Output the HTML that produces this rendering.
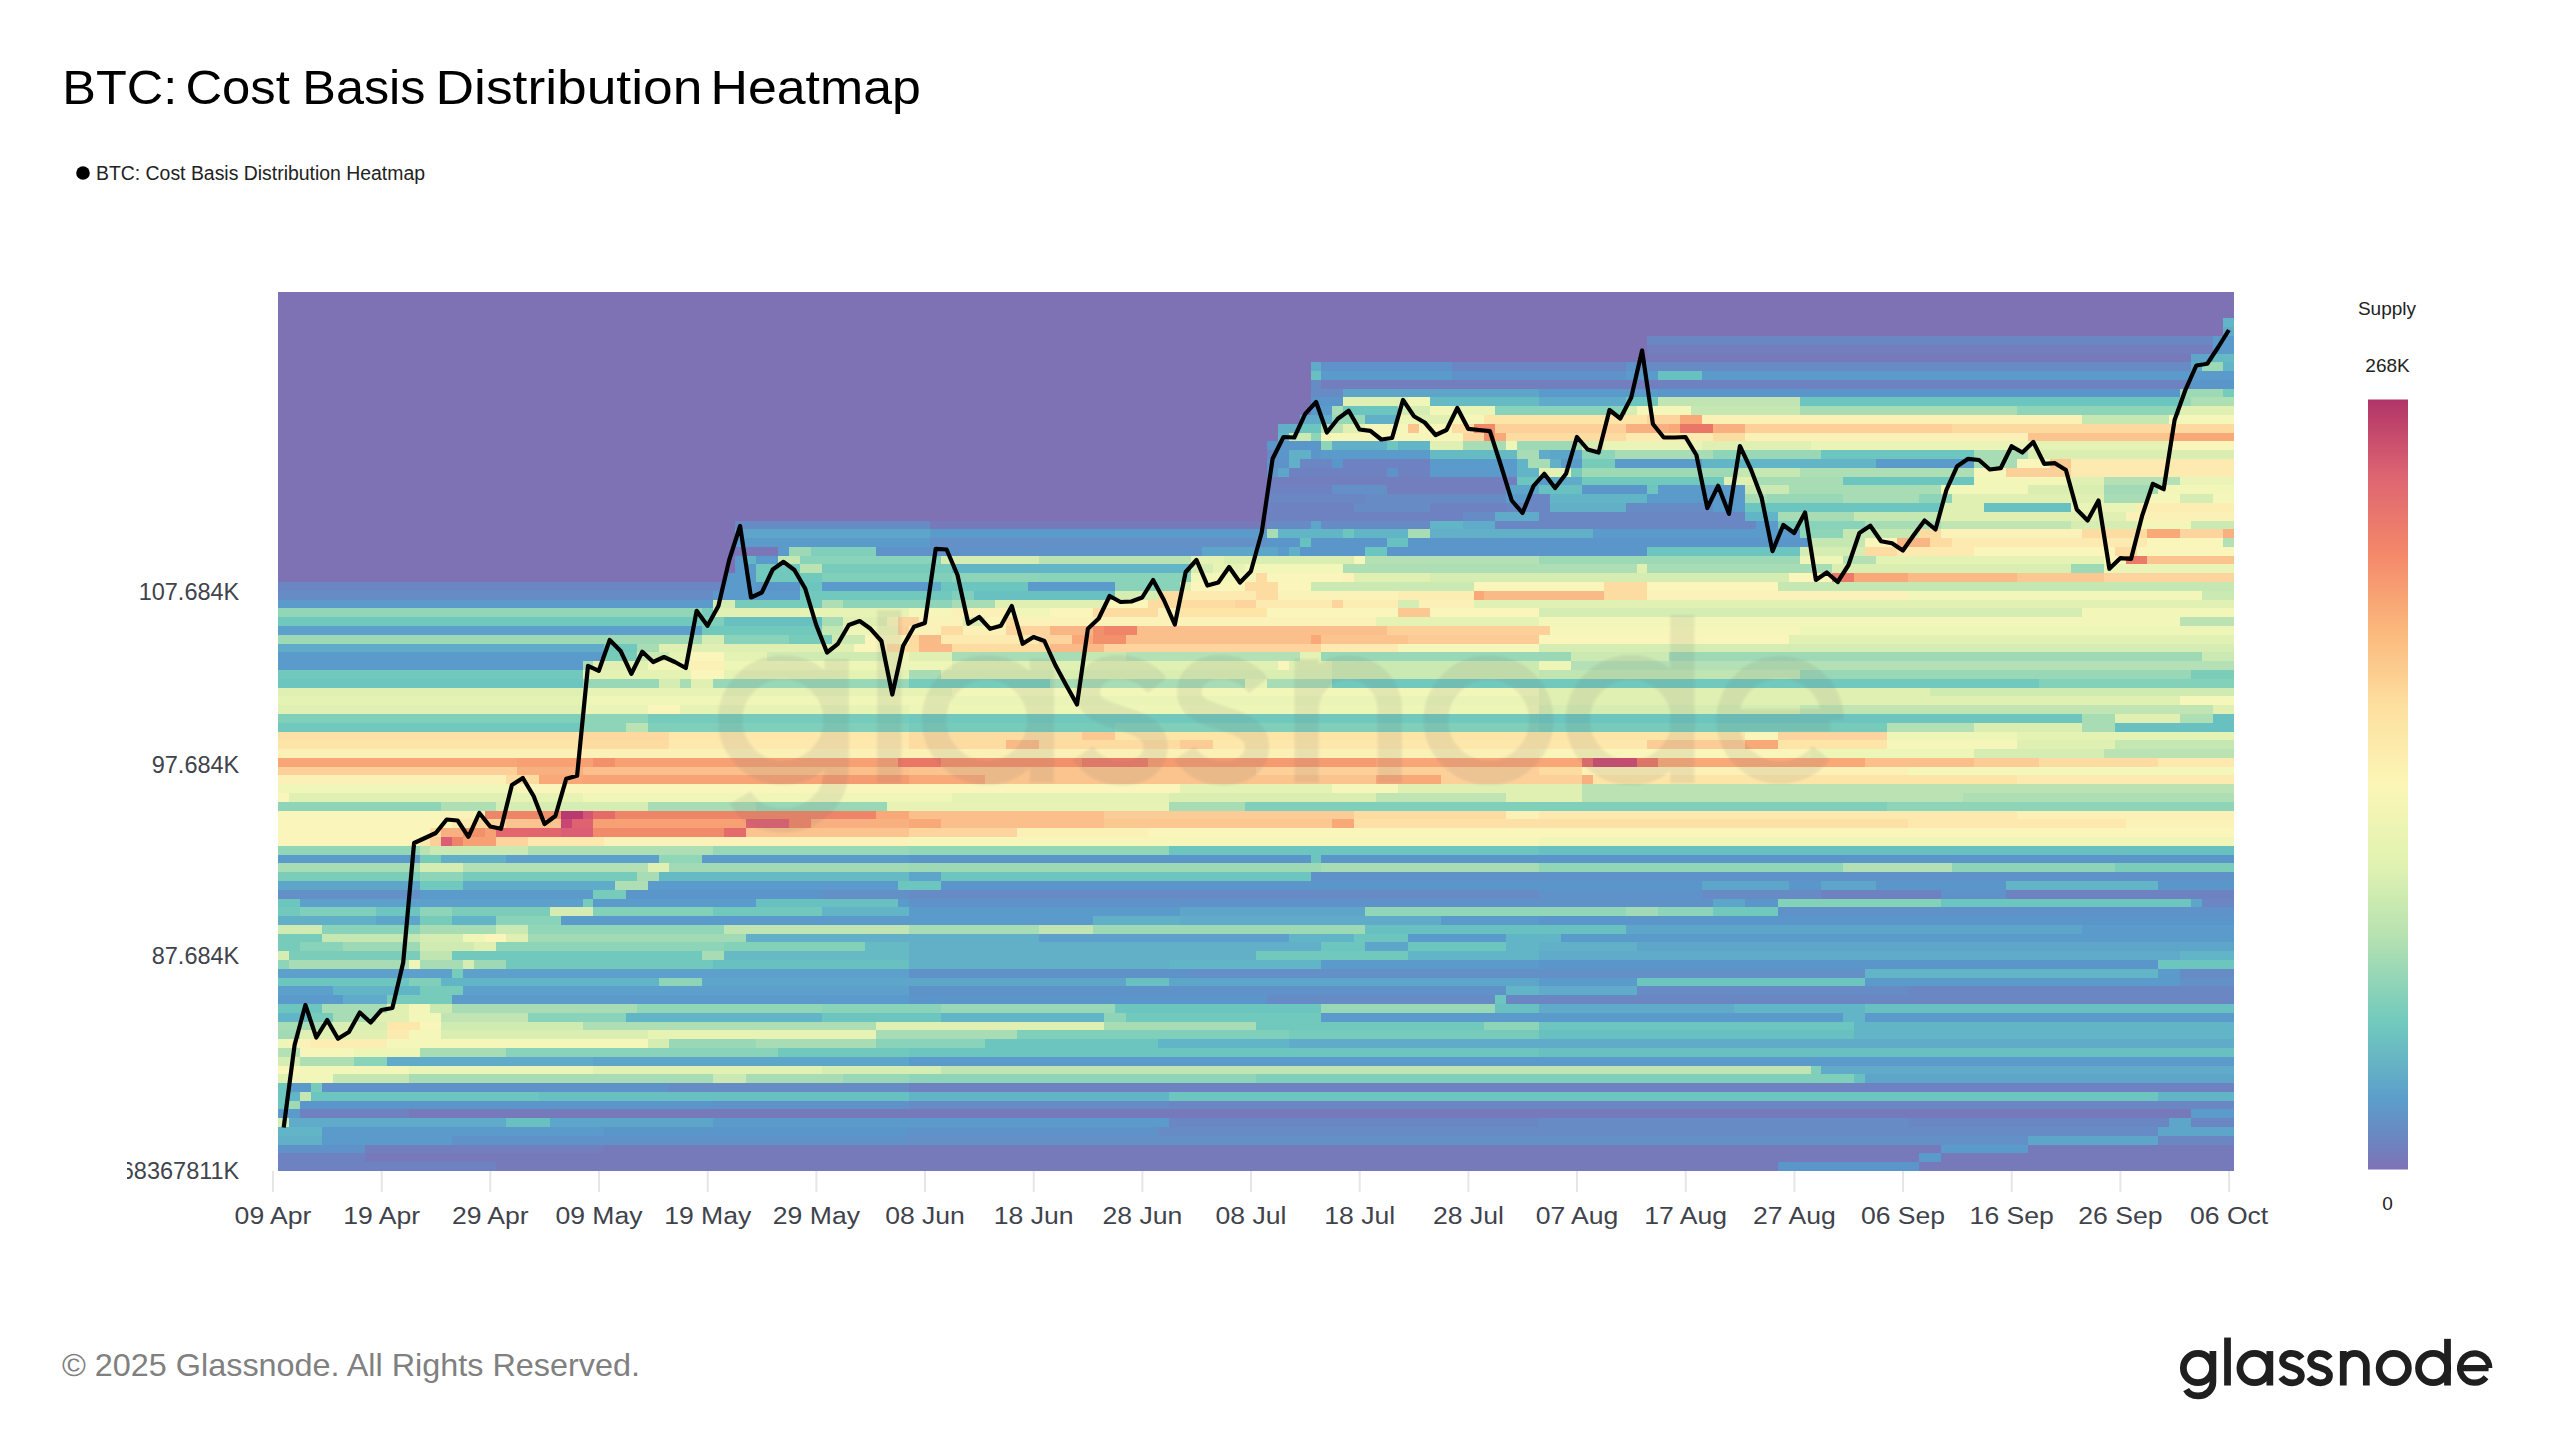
<!DOCTYPE html>
<html><head><meta charset="utf-8"><title>BTC: Cost Basis Distribution Heatmap</title>
<style>
html,body{margin:0;padding:0;background:#fff;}
body{width:2560px;height:1440px;overflow:hidden;font-family:"Liberation Sans",sans-serif;}
svg{display:block}
#root{position:absolute;left:0;top:0}
text{font-family:"Liberation Sans",sans-serif;}
.ax{font-size:24.5px;fill:#3f434c;}
.cb{font-size:19px;fill:#222;}
</style></head><body>
<svg id="root" width="2560" height="1440" viewBox="0 0 2560 1440">
<defs>
<linearGradient id="cbg" x1="0" y1="1" x2="0" y2="0">
<stop offset="0%" stop-color="#7e72b5"/><stop offset="4.5%" stop-color="#6a88c3"/><stop offset="9%" stop-color="#5c9dcb"/><stop offset="14%" stop-color="#66b4c4"/><stop offset="18.5%" stop-color="#6fc8be"/><stop offset="24%" stop-color="#8ed4b8"/><stop offset="30%" stop-color="#b5e1b0"/><stop offset="40%" stop-color="#e2f3b1"/><stop offset="50%" stop-color="#fbf6b6"/><stop offset="60%" stop-color="#fde0a0"/><stop offset="70%" stop-color="#fbb87c"/><stop offset="80%" stop-color="#f4886a"/><stop offset="90%" stop-color="#dd6572"/><stop offset="100%" stop-color="#b13468"/>
</linearGradient>
<filter id="blur" x="-5%" y="-20%" width="110%" height="140%"><feGaussianBlur stdDeviation="2.2"/></filter>
<g id="wm"><g fill="none" stroke="currentColor" stroke-width="48" stroke-linecap="butt" stroke-linejoin="round">
<circle cx="270" cy="413" r="104"/>
<path d="M376 292V512A104 100 0 0 1 270 611Q212 611 186 566"/>
<path d="M480 196V537"/>
<circle cx="672" cy="413" r="104"/>
<path d="M781 292V537"/>
<path d="M1008 345C985 315 950 307 925 309C885 312 868 340 872 365C878 395 915 402 945 412C985 424 1008 440 1005 470C1002 500 975 518 940 518C905 518 880 505 862 478"/>
<path d="M1208 345C1185 315 1150 307 1125 309C1085 312 1068 340 1072 365C1078 395 1115 402 1145 412C1185 424 1208 440 1205 470C1202 500 1175 518 1140 518C1105 518 1080 505 1062 478"/>
<path d="M1303 292V537M1303 392A82 83 0 0 1 1467 392V537"/>
<circle cx="1662" cy="413" r="104"/>
<circle cx="1942" cy="413" r="104"/>
<path d="M2044 205V537"/>
<path d="M2140 413H2336M2341 413A104 104 0 1 0 2318 478" stroke-width="44"/>
</g>
</g>
</defs>
<rect width="2560" height="1440" fill="#fff"/>
<g font-size="47.6" fill="#000"><text x="62.3" y="104" textLength="114.9" lengthAdjust="spacingAndGlyphs">BTC:</text><text x="185.4" y="104" textLength="104.5" lengthAdjust="spacingAndGlyphs">Cost</text><text x="302.3" y="104" textLength="123.2" lengthAdjust="spacingAndGlyphs">Basis</text><text x="435.5" y="104" textLength="266.9" lengthAdjust="spacingAndGlyphs">Distribution</text><text x="710.6" y="104" textLength="210.2" lengthAdjust="spacingAndGlyphs">Heatmap</text></g>
<circle cx="83" cy="173" r="6.8" fill="#000"/>
<text x="96" y="180" font-size="19.5" fill="#222" textLength="329" lengthAdjust="spacingAndGlyphs">BTC: Cost Basis Distribution Heatmap</text>
<g shape-rendering="crispEdges">
<rect x="278.25" y="292.0" width="1956.06" height="879.00" fill="#7e72b5"/>
<path fill="#7e72b5" d="M278.25 292H2234.31V300.79H278.25ZM278.25 300.79H2234.31V309.58H278.25ZM278.25 309.58H2234.31V318.37H278.25ZM278.25 318.37H2223.44V327.16H278.25ZM278.25 327.16H2223.44V335.95H278.25ZM278.25 335.95H1647.49V344.74H278.25ZM278.25 344.74H1647.49V353.53H278.25ZM278.25 353.53H1647.49V362.32H278.25ZM278.25 362.32H1310.62V371.11H278.25ZM278.25 371.11H1310.62V379.9H278.25ZM278.25 379.9H1310.62V388.69H278.25ZM278.25 388.69H1310.62V397.48H278.25ZM278.25 397.48H1310.62V406.27H278.25ZM278.25 406.27H1310.62V415.06H278.25ZM278.25 415.06H1299.75V423.85H278.25ZM278.25 423.85H1278.01V432.64H278.25ZM278.25 432.64H1278.01V441.43H278.25ZM278.25 441.43H1267.15V450.22H278.25ZM278.25 450.22H1267.15V459.01H278.25ZM278.25 459.01H1267.15V467.8H278.25ZM278.25 467.8H1267.15V476.59H278.25ZM278.25 476.59H1267.15V485.38H278.25ZM278.25 485.38H1267.15V494.17H278.25ZM278.25 494.17H1267.15V502.96H278.25ZM278.25 502.96H1267.15V511.75H278.25ZM278.25 511.75H1267.15V520.54H278.25ZM278.25 520.54H734.66V529.33H278.25ZM278.25 529.33H734.66V538.12H278.25ZM278.25 538.12H734.66V546.91H278.25ZM278.25 546.91H734.66V555.7H278.25ZM278.25 555.7H734.66V564.49H278.25ZM278.25 564.49H734.66V573.28H278.25ZM278.25 573.28H723.8V582.07H278.25Z"/>
<path fill="#7a76b7" d="M734.66 546.91H778.13V555.7H734.66Z"/>
<path fill="#767aba" d="M1647.49 353.53H2190.84V362.32H1647.49ZM930.27 520.54H1267.15V529.33H930.27ZM408.65 1109.47H2190.84V1118.26H408.65ZM604.26 1144.63H1940.9V1153.42H604.26ZM2027.84 1144.63H2234.31V1153.42H2027.84ZM365.19 1153.42H1919.17V1162.21H365.19ZM1940.9 1153.42H2234.31V1162.21H1940.9ZM495.59 1162.21H1777.9V1171H495.59ZM1919.17 1162.21H2234.31V1171H1919.17Z"/>
<path fill="#727ebe" d="M1647.49 344.74H2212.58V353.53H1647.49ZM1321.48 379.9H1658.36V388.69H1321.48ZM1267.15 476.59H1517.09V485.38H1267.15ZM1386.68 485.38H1506.22V494.17H1386.68ZM365.19 1144.63H604.26V1153.42H365.19Z"/>
<path fill="#6e82c1" d="M1658.36 379.9H2190.84V388.69H1658.36ZM1343.22 459.01H1430.15V467.8H1343.22ZM1288.88 467.8H1386.68V476.59H1288.88ZM1397.55 467.8H1430.15V476.59H1397.55ZM1267.15 485.38H1332.35V494.17H1267.15ZM1267.15 502.96H1354.08V511.75H1267.15ZM1430.15 502.96H1506.22V511.75H1430.15ZM1267.15 511.75H1462.75V520.54H1267.15ZM1821.36 889.72H1940.9V898.51H1821.36ZM2006.1 889.72H2234.31V898.51H2006.1ZM908.54 1083.1H2234.31V1091.89H908.54ZM299.98 1109.47H408.65V1118.26H299.98ZM278.25 1153.42H365.19V1162.21H278.25ZM278.25 1162.21H495.59V1171H278.25Z"/>
<path fill="#6a86c3" d="M1647.49 335.95H2212.58V344.74H1647.49ZM1451.89 362.32H1625.76V371.11H1451.89ZM1267.15 450.22H1278.01V459.01H1267.15ZM1299.75 459.01H1332.35V467.8H1299.75ZM1267.15 494.17H1364.95V502.96H1267.15ZM1527.96 494.17H1549.69V502.96H1527.96ZM1506.22 502.96H1549.69V511.75H1506.22ZM1538.82 511.75H1745.3V520.54H1538.82ZM1495.35 520.54H1756.16V529.33H1495.35ZM278.25 582.07H723.8V590.86H278.25ZM2201.71 898.51H2234.31V907.3H2201.71ZM1908.3 986.41H2234.31V995.2H1908.3ZM1506.22 995.2H2234.31V1003.99H1506.22ZM1169.34 1100.68H2234.31V1109.47H1169.34ZM1169.34 1118.26H1538.82V1127.05H1169.34ZM1908.3 1118.26H2169.11V1127.05H1908.3ZM2190.84 1118.26H2234.31V1127.05H2190.84ZM2158.24 1135.84H2234.31V1144.63H2158.24Z"/>
<path fill="#678bc5" d="M1647.49 362.32H2190.84V371.11H1647.49ZM1310.62 379.9H1321.48V388.69H1310.62ZM1310.62 388.69H1343.22V397.48H1310.62ZM1364.95 494.17H1506.22V502.96H1364.95ZM1354.08 502.96H1430.15V511.75H1354.08ZM1625.76 502.96H1712.69V511.75H1625.76ZM1462.75 511.75H1495.35V520.54H1462.75ZM734.66 520.54H930.27V529.33H734.66ZM1267.15 520.54H1310.62V529.33H1267.15ZM1321.48 520.54H1430.15V529.33H1321.48ZM278.25 590.86H712.93V599.65H278.25ZM908.54 889.72H1538.82V898.51H908.54ZM1701.83 889.72H1821.36V898.51H1701.83ZM2179.98 968.83H2234.31V977.62H2179.98ZM1636.62 986.41H1908.3V995.2H1636.62ZM1267.15 995.2H1495.35V1003.99H1267.15ZM669.46 1083.1H908.54V1091.89H669.46ZM908.54 1100.68H1169.34V1109.47H908.54ZM1538.82 1118.26H1908.3V1127.05H1538.82ZM1158.48 1127.05H2158.24V1135.84H1158.48Z"/>
<path fill="#6490c8" d="M1332.35 485.38H1386.68V494.17H1332.35ZM930.27 538.12H1267.15V546.91H930.27ZM278.25 889.72H419.52V898.51H278.25ZM821.6 889.72H908.54V898.51H821.6ZM1191.08 968.83H1864.83V977.62H1191.08ZM2179.98 977.62H2234.31V986.41H2179.98ZM908.54 1135.84H2027.84V1144.63H908.54Z"/>
<path fill="#5e92c9" d="M1321.48 362.32H1451.89V371.11H1321.48ZM1625.76 362.32H1647.49V371.11H1625.76ZM1451.89 371.11H1625.76V379.9H1451.89ZM1267.15 459.01H1288.88V467.8H1267.15ZM1386.68 467.8H1397.55V476.59H1386.68ZM875.94 546.91H1201.95V555.7H875.94ZM1310.62 872.14H2234.31V880.93H1310.62ZM1538.82 889.72H1701.83V898.51H1538.82ZM1940.9 889.72H2006.1V898.51H1940.9ZM908.54 898.51H1712.69V907.3H908.54ZM1777.9 907.3H2234.31V916.09H1777.9ZM908.54 968.83H1191.08V977.62H908.54ZM908.54 986.41H1506.22V995.2H908.54ZM321.72 1083.1H669.46V1091.89H321.72ZM712.93 1100.68H908.54V1109.47H712.93ZM908.54 1127.05H1158.48V1135.84H908.54ZM452.12 1135.84H908.54V1144.63H452.12ZM278.25 1144.63H365.19V1153.42H278.25Z"/>
<path fill="#5b96ca" d="M2190.84 379.9H2234.31V388.69H2190.84ZM1658.36 388.69H2179.98V397.48H1658.36ZM1310.62 397.48H1343.22V406.27H1310.62ZM1267.15 441.43H1321.48V450.22H1267.15ZM1278.01 450.22H1288.88V459.01H1278.01ZM1310.62 450.22H1321.48V459.01H1310.62ZM1332.35 459.01H1343.22V467.8H1332.35ZM1267.15 467.8H1278.01V476.59H1267.15ZM1582.29 485.38H1647.49V494.17H1582.29ZM1267.15 538.12H1299.75V546.91H1267.15ZM1310.62 538.12H1386.68V546.91H1310.62ZM1408.42 538.12H1810.5V546.91H1408.42ZM1299.75 546.91H1364.95V555.7H1299.75ZM1386.68 546.91H1647.49V555.7H1386.68ZM756.4 582.07H799.87V590.86H756.4ZM908.54 854.56H1310.62V863.35H908.54ZM1321.48 854.56H2234.31V863.35H1321.48ZM941.14 880.93H1701.83V889.72H941.14ZM1788.76 880.93H1821.36V889.72H1788.76ZM1875.7 880.93H2006.1V889.72H1875.7ZM2158.24 880.93H2234.31V889.72H2158.24ZM625.99 889.72H821.6V898.51H625.99ZM1745.3 898.51H1777.9V907.3H1745.3ZM1538.82 916.09H2234.31V924.88H1538.82ZM1538.82 960.04H2158.24V968.83H1538.82ZM908.54 995.2H1267.15V1003.99H908.54ZM299.98 1100.68H712.93V1109.47H299.98ZM604.26 1127.05H908.54V1135.84H604.26ZM1777.9 1162.21H1919.17V1171H1777.9Z"/>
<path fill="#5b9bcb" d="M2212.58 335.95H2234.31V344.74H2212.58ZM2212.58 344.74H2234.31V353.53H2212.58ZM1321.48 371.11H1451.89V379.9H1321.48ZM1625.76 371.11H1658.36V379.9H1625.76ZM1701.83 371.11H2234.31V379.9H1701.83ZM1538.82 388.69H1658.36V397.48H1538.82ZM1310.62 406.27H1332.35V415.06H1310.62ZM1321.48 450.22H1430.15V459.01H1321.48ZM1430.15 459.01H1517.09V467.8H1430.15ZM1560.56 459.01H1582.29V467.8H1560.56ZM1614.89 459.01H1701.83V467.8H1614.89ZM1875.7 459.01H1973.5V467.8H1875.7ZM1430.15 467.8H1517.09V476.59H1430.15ZM1538.82 476.59H1549.69V485.38H1538.82ZM1658.36 485.38H1745.3V494.17H1658.36ZM1506.22 494.17H1527.96V502.96H1506.22ZM1647.49 494.17H1745.3V502.96H1647.49ZM1712.69 502.96H1745.3V511.75H1712.69ZM1756.16 520.54H1777.9V529.33H1756.16ZM930.27 529.33H1267.15V538.12H930.27ZM1593.16 529.33H1799.63V538.12H1593.16ZM734.66 538.12H930.27V546.91H734.66ZM778.13 546.91H789V555.7H778.13ZM1278.01 546.91H1288.88V555.7H1278.01ZM734.66 555.7H745.53V564.49H734.66ZM756.4 555.7H778.13V564.49H756.4ZM734.66 564.49H756.4V573.28H734.66ZM723.8 573.28H756.4V582.07H723.8ZM723.8 582.07H756.4V590.86H723.8ZM821.6 582.07H930.27V590.86H821.6ZM1028.07 582.07H1115.01V590.86H1028.07ZM712.93 590.86H799.87V599.65H712.93ZM278.25 599.65H712.93V608.44H278.25ZM278.25 652.39H604.26V661.18H278.25ZM278.25 661.18H582.53V669.97H278.25ZM278.25 854.56H419.52V863.35H278.25ZM702.06 854.56H908.54V863.35H702.06ZM647.73 880.93H897.67V889.72H647.73ZM419.52 889.72H593.39V898.51H419.52ZM593.39 898.51H756.4V907.3H593.39ZM897.67 898.51H908.54V907.3H897.67ZM908.54 907.3H1180.21V916.09H908.54ZM560.79 916.09H1093.28V924.88H560.79ZM1441.02 916.09H1538.82V924.88H1441.02ZM2082.17 924.88H2234.31V933.67H2082.17ZM1408.42 933.67H1506.22V942.46H1408.42ZM1560.56 933.67H2234.31V942.46H1560.56ZM1321.48 960.04H1538.82V968.83H1321.48ZM2158.24 968.83H2179.98V977.62H2158.24ZM1538.82 977.62H1636.62V986.41H1538.82ZM1864.83 977.62H2179.98V986.41H1864.83ZM278.25 995.2H343.45V1003.99H278.25ZM452.12 995.2H908.54V1003.99H452.12ZM1321.48 1012.78H1843.1V1021.57H1321.48ZM1864.83 1012.78H2234.31V1021.57H1864.83ZM908.54 1056.73H2234.31V1065.52H908.54ZM289.12 1083.1H310.85V1091.89H289.12ZM278.25 1109.47H299.98V1118.26H278.25ZM2190.84 1109.47H2234.31V1118.26H2190.84ZM712.93 1118.26H1169.34V1127.05H712.93ZM321.72 1127.05H604.26V1135.84H321.72ZM321.72 1135.84H452.12V1144.63H321.72ZM1940.9 1144.63H2027.84V1153.42H1940.9ZM1919.17 1153.42H1940.9V1162.21H1919.17Z"/>
<path fill="#5da0cb" d="M278.25 626.02H702.06V634.81H278.25ZM506.46 854.56H658.6V863.35H506.46ZM299.98 898.51H582.53V907.3H299.98ZM1038.94 933.67H1288.88V942.46H1038.94ZM278.25 968.83H452.12V977.62H278.25ZM462.99 968.83H908.54V977.62H462.99ZM278.25 986.41H332.59V995.2H278.25ZM462.99 986.41H908.54V995.2H462.99Z"/>
<path fill="#5ea5ca" d="M2190.84 353.53H2212.58V362.32H2190.84ZM1343.22 388.69H1538.82V397.48H1343.22ZM1549.69 450.22H1582.29V459.01H1549.69ZM1278.01 467.8H1288.88V476.59H1278.01ZM1506.22 485.38H1538.82V494.17H1506.22ZM1310.62 520.54H1321.48V529.33H1310.62ZM734.66 529.33H930.27V538.12H734.66ZM1201.95 546.91H1278.01V555.7H1201.95ZM908.54 872.14H941.14V880.93H908.54ZM278.25 880.93H419.52V889.72H278.25ZM1701.83 880.93H1788.76V889.72H1701.83ZM1821.36 880.93H1875.7V889.72H1821.36ZM1712.69 898.51H1745.3V907.3H1712.69ZM2190.84 898.51H2201.71V907.3H2190.84ZM1180.21 907.3H1364.95V916.09H1180.21ZM376.05 916.09H419.52V924.88H376.05ZM1625.76 924.88H2082.17V933.67H1625.76ZM1364.95 942.46H1408.42V951.25H1364.95ZM1636.62 942.46H2234.31V951.25H1636.62ZM702.06 977.62H1125.88V986.41H702.06ZM1169.34 977.62H1538.82V986.41H1169.34ZM593.39 1056.73H908.54V1065.52H593.39ZM1864.83 1074.31H2234.31V1083.1H1864.83ZM549.92 1118.26H712.93V1127.05H549.92ZM2169.11 1118.26H2190.84V1127.05H2169.11ZM2158.24 1127.05H2234.31V1135.84H2158.24ZM2027.84 1135.84H2158.24V1144.63H2027.84Z"/>
<path fill="#60abc9" d="M2223.44 327.16H2234.31V335.95H2223.44ZM1310.62 362.32H1321.48V371.11H1310.62ZM2190.84 362.32H2201.71V371.11H2190.84ZM1538.82 397.48H1625.76V406.27H1538.82ZM1299.75 415.06H1332.35V423.85H1299.75ZM1538.82 450.22H1549.69V459.01H1538.82ZM1549.69 476.59H1582.29V485.38H1549.69ZM1495.35 511.75H1538.82V520.54H1495.35ZM1462.75 520.54H1495.35V529.33H1462.75ZM930.27 582.07H941.14V590.86H930.27ZM278.25 643.6H604.26V652.39H278.25ZM462.99 880.93H615.13V889.72H462.99ZM1180.21 916.09H1441.02V924.88H1180.21ZM1538.82 951.25H2179.98V960.04H1538.82ZM1538.82 986.41H1636.62V995.2H1538.82ZM343.45 995.2H386.92V1003.99H343.45ZM1538.82 1003.99H1734.43V1012.78H1538.82ZM1288.88 1039.15H2234.31V1047.94H1288.88ZM386.92 1056.73H593.39V1065.52H386.92ZM1821.36 1065.52H2234.31V1074.31H1821.36ZM289.12 1118.26H506.46V1127.05H289.12Z"/>
<path fill="#61b0c8" d="M1364.95 415.06H1397.55V423.85H1364.95ZM1278.01 423.85H1299.75V432.64H1278.01ZM1332.35 441.43H1386.68V450.22H1332.35ZM1288.88 450.22H1310.62V459.01H1288.88ZM1288.88 459.01H1299.75V467.8H1288.88ZM1549.69 459.01H1560.56V467.8H1549.69ZM1549.69 502.96H1625.76V511.75H1549.69ZM1430.15 529.33H1593.16V538.12H1430.15ZM1288.88 546.91H1299.75V555.7H1288.88ZM441.25 854.56H506.46V863.35H441.25ZM278.25 916.09H376.05V924.88H278.25ZM1093.28 916.09H1180.21V924.88H1093.28ZM745.53 933.67H1038.94V942.46H745.53ZM908.54 942.46H1321.48V951.25H908.54ZM1538.82 942.46H1636.62V951.25H1538.82ZM908.54 951.25H1256.28V960.04H908.54ZM908.54 960.04H1169.34V968.83H908.54ZM278.25 1135.84H321.72V1144.63H278.25Z"/>
<path fill="#62b5c6" d="M2223.44 318.37H2234.31V327.16H2223.44ZM2223.44 362.32H2234.31V371.11H2223.44ZM1278.01 432.64H1288.88V441.43H1278.01ZM1397.55 441.43H1430.15V450.22H1397.55ZM1517.09 459.01H1527.96V467.8H1517.09ZM1701.83 459.01H1875.7V467.8H1701.83ZM1517.09 467.8H1538.82V476.59H1517.09ZM1549.69 494.17H1647.49V502.96H1549.69ZM1745.3 511.75H1777.9V520.54H1745.3ZM1430.15 520.54H1462.75V529.33H1430.15ZM1278.01 529.33H1343.22V538.12H1278.01ZM1354.08 529.33H1408.42V538.12H1354.08ZM745.53 555.7H756.4V564.49H745.53ZM952 564.49H1191.08V573.28H952ZM2006.1 880.93H2158.24V889.72H2006.1ZM821.6 907.3H908.54V916.09H821.6ZM452.12 916.09H495.59V924.88H452.12ZM1288.88 933.67H1354.08V942.46H1288.88ZM1506.22 933.67H1560.56V942.46H1506.22ZM1506.22 942.46H1538.82V951.25H1506.22ZM1408.42 951.25H1538.82V960.04H1408.42ZM2179.98 951.25H2234.31V960.04H2179.98ZM1169.34 960.04H1321.48V968.83H1169.34ZM1864.83 968.83H2158.24V977.62H1864.83ZM441.25 977.62H658.6V986.41H441.25ZM332.59 986.41H419.52V995.2H332.59ZM1506.22 986.41H1538.82V995.2H1506.22ZM1734.43 1003.99H1864.83V1012.78H1734.43ZM278.25 1012.78H310.85V1021.57H278.25ZM625.99 1012.78H821.6V1021.57H625.99ZM941.14 1012.78H1104.14V1021.57H941.14ZM1843.1 1012.78H1864.83V1021.57H1843.1ZM1853.97 1021.57H2234.31V1030.36H1853.97ZM1853.97 1030.36H2234.31V1039.15H1853.97ZM1158.48 1039.15H1288.88V1047.94H1158.48ZM289.12 1091.89H299.98V1100.68H289.12ZM908.54 1091.89H1169.34V1100.68H908.54ZM2158.24 1091.89H2234.31V1100.68H2158.24ZM278.25 1127.05H321.72V1135.84H278.25Z"/>
<path fill="#65bac3" d="M2212.58 353.53H2234.31V362.32H2212.58ZM1430.15 397.48H1538.82V406.27H1430.15ZM1430.15 450.22H1517.09V459.01H1430.15ZM658.6 872.14H908.54V880.93H658.6ZM865.07 942.46H908.54V951.25H865.07ZM723.8 951.25H908.54V960.04H723.8Z"/>
<path fill="#68c0c0" d="M1310.62 371.11H1321.48V379.9H1310.62ZM1658.36 371.11H1701.83V379.9H1658.36ZM1538.82 485.38H1582.29V494.17H1538.82ZM1984.37 502.96H2071.31V511.75H1984.37ZM1299.75 538.12H1310.62V546.91H1299.75ZM1386.68 538.12H1408.42V546.91H1386.68ZM973.74 590.86H1115.01V599.65H973.74ZM723.8 617.23H821.6V626.02H723.8ZM2212.58 713.92H2234.31V722.71H2212.58ZM2114.77 722.71H2234.31V731.5H2114.77ZM1538.82 845.77H2234.31V854.56H1538.82ZM756.4 898.51H897.67V907.3H756.4ZM1364.95 924.88H1625.76V933.67H1364.95ZM712.93 960.04H908.54V968.83H712.93ZM1125.88 977.62H1169.34V986.41H1125.88ZM1495.35 1003.99H1538.82V1012.78H1495.35ZM1864.83 1003.99H2234.31V1012.78H1864.83ZM1538.82 1030.36H1853.97V1039.15H1538.82ZM1538.82 1047.94H2234.31V1056.73H1538.82ZM1853.97 1074.31H1864.83V1083.1H1853.97ZM539.06 1091.89H908.54V1100.68H539.06ZM506.46 1118.26H549.92V1127.05H506.46Z"/>
<path fill="#6cc5bf" d="M1625.76 397.48H1658.36V406.27H1625.76ZM1799.63 397.48H2179.98V406.27H1799.63ZM1343.22 406.27H1397.55V415.06H1343.22ZM1299.75 423.85H1321.48V432.64H1299.75ZM1386.68 441.43H1397.55V450.22H1386.68ZM1821.36 450.22H1973.5V459.01H1821.36ZM1517.09 476.59H1538.82V485.38H1517.09ZM1843.1 476.59H1973.5V485.38H1843.1ZM1647.49 485.38H1658.36V494.17H1647.49ZM1745.3 502.96H1940.9V511.75H1745.3ZM1343.22 529.33H1354.08V538.12H1343.22ZM1364.95 546.91H1386.68V555.7H1364.95ZM1647.49 546.91H1799.63V555.7H1647.49ZM799.87 582.07H821.6V590.86H799.87ZM941.14 582.07H1028.07V590.86H941.14ZM278.25 678.76H582.53V687.55H278.25ZM1538.82 713.92H2082.17V722.71H1538.82ZM1169.34 845.77H1538.82V854.56H1169.34ZM1310.62 854.56H1321.48V863.35H1310.62ZM941.14 872.14H1310.62V880.93H941.14ZM897.67 880.93H941.14V889.72H897.67ZM278.25 898.51H299.98V907.3H278.25ZM1940.9 898.51H2190.84V907.3H1940.9ZM376.05 907.3H419.52V916.09H376.05ZM1354.08 933.67H1408.42V942.46H1354.08ZM1321.48 942.46H1364.95V951.25H1321.48ZM1408.42 942.46H1506.22V951.25H1408.42ZM2158.24 960.04H2234.31V968.83H2158.24ZM278.25 977.62H408.65V986.41H278.25ZM1636.62 977.62H1864.83V986.41H1636.62ZM1495.35 995.2H1506.22V1003.99H1495.35ZM278.25 1003.99H321.72V1012.78H278.25ZM1115.01 1003.99H1321.48V1012.78H1115.01ZM821.6 1012.78H941.14V1021.57H821.6ZM1538.82 1021.57H1853.97V1030.36H1538.82ZM984.61 1039.15H1158.48V1047.94H984.61ZM908.54 1047.94H1538.82V1056.73H908.54ZM278.25 1083.1H289.12V1091.89H278.25ZM278.25 1091.89H289.12V1100.68H278.25ZM310.85 1091.89H539.06V1100.68H310.85ZM1169.34 1091.89H2158.24V1100.68H1169.34ZM278.25 1100.68H289.12V1109.47H278.25Z"/>
<path fill="#71c8bd" d="M1582.29 476.59H1723.56V485.38H1582.29ZM756.4 564.49H799.87V573.28H756.4ZM756.4 573.28H821.6V582.07H756.4ZM799.87 590.86H952V599.65H799.87ZM278.25 617.23H702.06V626.02H278.25ZM702.06 626.02H821.6V634.81H702.06ZM604.26 643.6H636.86V652.39H604.26ZM278.25 669.97H582.53V678.76H278.25ZM1332.35 678.76H2038.7V687.55H1332.35ZM908.54 713.92H1538.82V722.71H908.54ZM278.25 722.71H582.53V731.5H278.25ZM419.52 880.93H462.99V889.72H419.52ZM278.25 907.3H299.98V916.09H278.25ZM712.93 907.3H821.6V916.09H712.93ZM1712.69 907.3H1777.9V916.09H1712.69ZM452.12 951.25H702.06V960.04H452.12ZM1256.28 951.25H1408.42V960.04H1256.28ZM506.46 960.04H712.93V968.83H506.46ZM1125.88 1012.78H1321.48V1021.57H1125.88ZM1256.28 1021.57H1484.49V1030.36H1256.28ZM778.13 1047.94H908.54V1056.73H778.13Z"/>
<path fill="#76cbbb" d="M2223.44 388.69H2234.31V397.48H2223.44ZM1582.29 459.01H1614.89V467.8H1582.29ZM1571.42 467.8H1582.29V476.59H1571.42ZM1777.9 520.54H1799.63V529.33H1777.9ZM821.6 564.49H952V573.28H821.6ZM734.66 599.65H821.6V608.44H734.66ZM702.06 608.44H712.93V617.23H702.06ZM789 634.81H832.47V643.6H789ZM604.26 652.39H636.86V661.18H604.26ZM908.54 678.76H1049.81V687.55H908.54ZM647.73 713.92H908.54V722.71H647.73ZM908.54 722.71H1115.01V731.5H908.54ZM1538.82 722.71H1886.57V731.5H1538.82ZM419.52 854.56H441.25V863.35H419.52ZM462.99 872.14H636.86V880.93H462.99ZM593.39 889.72H625.99V898.51H593.39ZM582.53 898.51H593.39V907.3H582.53ZM419.52 916.09H452.12V924.88H419.52ZM278.25 933.67H321.72V942.46H278.25ZM278.25 942.46H299.98V951.25H278.25ZM452.12 968.83H462.99V977.62H452.12ZM419.52 986.41H462.99V995.2H419.52ZM386.92 995.2H452.12V1003.99H386.92ZM310.85 1012.78H332.59V1021.57H310.85ZM1288.88 1030.36H1538.82V1039.15H1288.88ZM310.85 1083.1H321.72V1091.89H310.85Z"/>
<path fill="#7bcdba" d="M2190.84 669.97H2234.31V678.76H2190.84ZM2114.77 863.35H2234.31V872.14H2114.77ZM278.25 872.14H419.52V880.93H278.25ZM452.12 907.3H549.92V916.09H452.12ZM289.12 951.25H419.52V960.04H289.12Z"/>
<path fill="#80cfba" d="M810.73 546.91H875.94V555.7H810.73ZM821.6 573.28H952V582.07H821.6ZM952 590.86H973.74V599.65H952ZM702.06 617.23H723.8V626.02H702.06ZM278.25 713.92H582.53V722.71H278.25ZM647.73 722.71H908.54V731.5H647.73ZM1115.01 722.71H1538.82V731.5H1115.01ZM1245.41 801.82H1886.57V810.61H1245.41ZM299.98 907.3H376.05V916.09H299.98ZM408.65 977.62H441.25V986.41H408.65ZM1017.21 1030.36H1288.88V1039.15H1017.21ZM1810.5 1065.52H1821.36V1074.31H1810.5ZM1256.28 1074.31H1853.97V1083.1H1256.28Z"/>
<path fill="#84d1ba" d="M2038.7 678.76H2234.31V687.55H2038.7ZM1777.9 898.51H1940.9V907.3H1777.9ZM593.39 907.3H712.93V916.09H593.39ZM723.8 942.46H865.07V951.25H723.8Z"/>
<path fill="#88d3b9" d="M1495.35 406.27H1625.76V415.06H1495.35ZM1799.63 520.54H1864.83V529.33H1799.63ZM799.87 555.7H941.14V564.49H799.87ZM1038.94 573.28H1191.08V582.07H1038.94ZM1115.01 582.07H1180.21V590.86H1115.01ZM723.8 634.81H789V643.6H723.8ZM495.59 916.09H560.79V924.88H495.59ZM321.72 924.88H419.52V933.67H321.72ZM299.98 942.46H343.45V951.25H299.98ZM821.6 1003.99H941.14V1012.78H821.6ZM528.19 1012.78H625.99V1021.57H528.19ZM875.94 1039.15H984.61V1047.94H875.94ZM506.46 1047.94H778.13V1056.73H506.46ZM354.32 1056.73H386.92V1065.52H354.32Z"/>
<path fill="#8dd4b8" d="M2016.97 406.27H2179.98V415.06H2016.97ZM1310.62 432.64H1321.48V441.43H1310.62ZM1321.48 441.43H1332.35V450.22H1321.48ZM1582.29 450.22H1614.89V459.01H1582.29ZM1712.69 450.22H1745.3V459.01H1712.69ZM1919.17 494.17H1951.77V502.96H1919.17ZM1799.63 529.33H1843.1V538.12H1799.63ZM952 573.28H1038.94V582.07H952ZM843.33 599.65H952V608.44H843.33ZM582.53 713.92H647.73V722.71H582.53ZM582.53 722.71H625.99V731.5H582.53ZM278.25 801.82H441.25V810.61H278.25ZM1886.57 801.82H2234.31V810.61H1886.57ZM1951.77 863.35H2114.77V872.14H1951.77ZM419.52 872.14H462.99V880.93H419.52ZM419.52 907.3H452.12V916.09H419.52ZM1658.36 907.3H1712.69V916.09H1658.36ZM495.59 942.46H723.8V951.25H495.59ZM278.25 960.04H289.12V968.83H278.25ZM658.6 977.62H702.06V986.41H658.6ZM1104.14 1012.78H1125.88V1021.57H1104.14ZM1484.49 1021.57H1538.82V1030.36H1484.49ZM908.54 1074.31H1256.28V1083.1H908.54Z"/>
<path fill="#92d6b8" d="M278.25 608.44H702.06V617.23H278.25ZM278.25 845.77H419.52V854.56H278.25ZM908.54 845.77H1169.34V854.56H908.54ZM658.6 854.56H702.06V863.35H658.6ZM1538.82 863.35H1843.1V872.14H1538.82ZM1364.95 907.3H1625.76V916.09H1364.95ZM528.19 924.88H723.8V933.67H528.19ZM636.86 1003.99H821.6V1012.78H636.86Z"/>
<path fill="#98d8b7" d="M2179.98 397.48H2190.84V406.27H2179.98ZM1332.35 415.06H1364.95V423.85H1332.35ZM1745.3 450.22H1821.36V459.01H1745.3ZM1767.03 494.17H1843.1V502.96H1767.03ZM1321.48 652.39H1571.42V661.18H1321.48ZM1799.63 669.97H2190.84V678.76H1799.63ZM582.53 678.76H658.6V687.55H582.53ZM712.93 678.76H908.54V687.55H712.93ZM756.4 801.82H886.8V810.61H756.4ZM712.93 845.77H908.54V854.56H712.93ZM941.14 1003.99H1115.01V1012.78H941.14ZM1321.48 1003.99H1495.35V1012.78H1321.48ZM669.46 1039.15H756.4V1047.94H669.46ZM843.33 1074.31H908.54V1083.1H843.33Z"/>
<path fill="#9ed9b6" d="M2201.71 362.32H2223.44V371.11H2201.71ZM2179.98 388.69H2223.44V397.48H2179.98ZM1517.09 441.43H1582.29V450.22H1517.09ZM1582.29 467.8H1734.43V476.59H1582.29ZM789 546.91H810.73V555.7H789ZM1538.82 555.7H1799.63V564.49H1538.82ZM2071.31 564.49H2103.91V573.28H2071.31ZM278.25 634.81H702.06V643.6H278.25ZM1669.23 652.39H2201.71V661.18H1669.23ZM908.54 863.35H1321.48V872.14H908.54ZM1093.28 924.88H1364.95V933.67H1093.28ZM343.45 942.46H419.52V951.25H343.45ZM473.86 960.04H506.46V968.83H473.86ZM289.12 1100.68H299.98V1109.47H289.12Z"/>
<path fill="#a3dab6" d="M2103.91 485.38H2158.24V494.17H2103.91ZM669.46 863.35H908.54V872.14H669.46ZM1625.76 907.3H1658.36V916.09H1625.76ZM528.19 933.67H745.53V942.46H528.19ZM278.25 1030.36H299.98V1039.15H278.25Z"/>
<path fill="#a8dcb5" d="M1332.35 406.27H1343.22V415.06H1332.35ZM1799.63 406.27H2016.97V415.06H1799.63ZM1462.75 441.43H1506.22V450.22H1462.75ZM1517.09 450.22H1538.82V459.01H1517.09ZM1614.89 450.22H1712.69V459.01H1614.89ZM1973.5 450.22H2027.84V459.01H1973.5ZM1527.96 459.01H1549.69V467.8H1527.96ZM1973.5 459.01H2016.97V467.8H1973.5ZM1756.16 476.59H1843.1V485.38H1756.16ZM1788.76 485.38H1940.9V494.17H1788.76ZM1745.3 494.17H1767.03V502.96H1745.3ZM1843.1 494.17H1919.17V502.96H1843.1ZM2103.91 494.17H2147.37V502.96H2103.91ZM1777.9 511.75H1853.97V520.54H1777.9ZM1864.83 520.54H1940.9V529.33H1864.83ZM1267.15 529.33H1278.01V538.12H1267.15ZM1408.42 529.33H1430.15V538.12H1408.42ZM1647.49 564.49H1832.23V573.28H1647.49ZM952 599.65H995.47V608.44H952ZM821.6 617.23H843.33V626.02H821.6ZM636.86 643.6H658.6V652.39H636.86ZM952 652.39H1082.41V661.18H952ZM582.53 661.18H593.39V669.97H582.53ZM908.54 669.97H941.14V678.76H908.54ZM680.33 678.76H691.2V687.55H680.33ZM1049.81 678.76H1245.41V687.55H1049.81ZM1267.15 678.76H1332.35V687.55H1267.15ZM2082.17 713.92H2114.77V722.71H2082.17ZM2082.17 722.71H2114.77V731.5H2082.17ZM647.73 801.82H756.4V810.61H647.73ZM1169.34 801.82H1245.41V810.61H1169.34ZM278.25 863.35H419.52V872.14H278.25ZM1321.48 863.35H1538.82V872.14H1321.48ZM636.86 872.14H658.6V880.93H636.86ZM419.52 924.88H495.59V933.67H419.52ZM908.54 924.88H1038.94V933.67H908.54ZM702.06 951.25H723.8V960.04H702.06ZM289.12 960.04H408.65V968.83H289.12ZM419.52 960.04H462.99V968.83H419.52ZM321.72 1003.99H386.92V1012.78H321.72ZM452.12 1003.99H636.86V1012.78H452.12ZM332.59 1012.78H376.05V1021.57H332.59ZM278.25 1021.57H321.72V1030.36H278.25ZM1104.14 1021.57H1256.28V1030.36H1104.14ZM875.94 1030.36H1017.21V1039.15H875.94ZM756.4 1039.15H875.94V1047.94H756.4ZM419.52 1047.94H506.46V1056.73H419.52ZM408.65 1074.31H712.93V1083.1H408.65ZM745.53 1074.31H843.33V1083.1H745.53Z"/>
<path fill="#aedeb4" d="M2190.84 397.48H2234.31V406.27H2190.84ZM1799.63 467.8H1973.5V476.59H1799.63ZM1343.22 564.49H1636.62V573.28H1343.22ZM821.6 599.65H843.33V608.44H821.6ZM2179.98 713.92H2212.58V722.71H2179.98ZM1962.64 793.03H2234.31V801.82H1962.64ZM441.25 801.82H495.59V810.61H441.25ZM528.19 845.77H712.93V854.56H528.19ZM615.13 880.93H647.73V889.72H615.13ZM582.53 1021.57H875.94V1030.36H582.53ZM299.98 1056.73H354.32V1065.52H299.98Z"/>
<path fill="#b3e0b4" d="M2103.91 476.59H2179.98V485.38H2103.91ZM2223.44 538.12H2234.31V546.91H2223.44ZM1364.95 555.7H1538.82V564.49H1364.95ZM1843.1 555.7H1875.7V564.49H1843.1ZM1125.88 652.39H1299.75V661.18H1125.88ZM1571.42 661.18H2234.31V669.97H1571.42ZM1886.57 722.71H1973.5V731.5H1886.57ZM462.99 863.35H647.73V872.14H462.99ZM1843.1 863.35H1951.77V872.14H1843.1ZM278.25 1047.94H299.98V1056.73H278.25Z"/>
<path fill="#bae2b3" d="M1321.48 423.85H1343.22V432.64H1321.48ZM1038.94 555.7H1191.08V564.49H1038.94ZM799.87 564.49H821.6V573.28H799.87ZM2179.98 617.23H2234.31V626.02H2179.98ZM625.99 722.71H647.73V731.5H625.99ZM2103.91 749.08H2234.31V757.87H2103.91ZM1582.29 784.24H2234.31V793.03H1582.29ZM1582.29 793.03H1962.64V801.82H1582.29ZM419.52 845.77H430.39V854.56H419.52Z"/>
<path fill="#c0e5b2" d="M1658.36 397.48H1799.63V406.27H1658.36ZM1940.9 520.54H2071.31V529.33H1940.9ZM1538.82 669.97H1799.63V678.76H1538.82ZM1799.63 705.13H2212.58V713.92H1799.63ZM1375.82 793.03H1506.22V801.82H1375.82ZM723.8 924.88H908.54V933.67H723.8ZM1038.94 924.88H1093.28V933.67H1038.94ZM419.52 951.25H452.12V960.04H419.52ZM441.25 1012.78H528.19V1021.57H441.25ZM941.14 1065.52H1810.5V1074.31H941.14Z"/>
<path fill="#c5e7b2" d="M1690.96 406.27H1799.63V415.06H1690.96ZM2082.17 415.06H2169.11V423.85H2082.17ZM1734.43 467.8H1799.63V476.59H1734.43ZM1853.97 511.75H1940.9V520.54H1853.97ZM1843.1 529.33H1919.17V538.12H1843.1ZM1810.5 538.12H1864.83V546.91H1810.5ZM778.13 555.7H799.87V564.49H778.13ZM1777.9 582.07H2234.31V590.86H1777.9ZM821.6 626.02H843.33V634.81H821.6ZM1082.41 652.39H1125.88V661.18H1082.41ZM2114.77 740.29H2234.31V749.08H2114.77ZM321.72 933.67H419.52V942.46H321.72ZM332.59 1074.31H408.65V1083.1H332.59ZM299.98 1091.89H310.85V1100.68H299.98Z"/>
<path fill="#cbe9b2" d="M1288.88 432.64H1310.62V441.43H1288.88ZM1745.3 485.38H1788.76V494.17H1745.3ZM2190.84 520.54H2234.31V529.33H2190.84ZM1310.62 582.07H1473.62V590.86H1310.62ZM2201.71 590.86H2234.31V599.65H2201.71ZM832.47 634.81H865.07V643.6H832.47ZM636.86 652.39H669.46V661.18H636.86ZM1571.42 652.39H1669.23V661.18H1571.42ZM2201.71 652.39H2234.31V661.18H2201.71ZM1332.35 661.18H1538.82V669.97H1332.35ZM1332.35 669.97H1538.82V678.76H1332.35ZM430.39 845.77H528.19V854.56H430.39ZM495.59 924.88H528.19V933.67H495.59ZM430.39 1003.99H452.12V1012.78H430.39ZM712.93 1074.31H745.53V1083.1H712.93Z"/>
<path fill="#d0ebb2" d="M767.27 652.39H886.8V661.18H767.27ZM1930.03 687.55H2234.31V696.34H1930.03ZM278.25 924.88H321.72V933.67H278.25ZM419.52 942.46H473.86V951.25H419.52ZM441.25 1021.57H582.53V1030.36H441.25Z"/>
<path fill="#d5edb2" d="M1397.55 406.27H1430.15V415.06H1397.55ZM1625.76 406.27H1636.62V415.06H1625.76ZM1582.29 441.43H1604.02V450.22H1582.29ZM2179.98 494.17H2212.58V502.96H2179.98ZM2071.31 520.54H2136.51V529.33H2071.31ZM1799.63 546.91H1864.83V555.7H1799.63ZM941.14 555.7H1038.94V564.49H941.14ZM1191.08 564.49H1212.81V573.28H1191.08ZM1430.15 573.28H1788.76V582.07H1430.15ZM1115.01 590.86H1158.48V599.65H1115.01ZM712.93 599.65H734.66V608.44H712.93ZM1397.55 599.65H1419.29V608.44H1397.55ZM1538.82 608.44H2082.17V617.23H1538.82ZM962.87 617.23H984.61V626.02H962.87ZM702.06 634.81H723.8V643.6H702.06ZM1538.82 643.6H2234.31V652.39H1538.82ZM658.6 678.76H680.33V687.55H658.6ZM1538.82 705.13H1799.63V713.92H1538.82ZM1973.5 749.08H2103.91V757.87H1973.5ZM495.59 801.82H647.73V810.61H495.59ZM419.52 863.35H462.99V872.14H419.52ZM549.92 907.3H593.39V916.09H549.92ZM419.52 933.67H462.99V942.46H419.52ZM278.25 951.25H289.12V960.04H278.25ZM462.99 960.04H473.86V968.83H462.99ZM647.73 1039.15H669.46V1047.94H647.73ZM278.25 1056.73H299.98V1065.52H278.25ZM821.6 1065.52H941.14V1074.31H821.6ZM278.25 1118.26H289.12V1127.05H278.25Z"/>
<path fill="#daeeb2" d="M2027.84 450.22H2234.31V459.01H2027.84ZM2027.84 485.38H2103.91V494.17H2027.84ZM1223.68 555.7H1354.08V564.49H1223.68ZM1832.23 564.49H2071.31V573.28H1832.23ZM941.14 669.97H1332.35V678.76H941.14ZM1973.5 722.71H2082.17V731.5H1973.5ZM1169.34 793.03H1375.82V801.82H1169.34ZM321.72 1021.57H386.92V1030.36H321.72ZM441.25 1030.36H647.73V1039.15H441.25Z"/>
<path fill="#dff0b2" d="M1343.22 397.48H1408.42V406.27H1343.22ZM2179.98 406.27H2234.31V415.06H2179.98ZM1419.29 415.06H1451.89V423.85H1419.29ZM1343.22 423.85H1364.95V432.64H1343.22ZM1430.15 441.43H1462.75V450.22H1430.15ZM1701.83 441.43H1810.5V450.22H1701.83ZM1723.56 476.59H1756.16V485.38H1723.56ZM2071.31 476.59H2103.91V485.38H2071.31ZM1951.77 494.17H2103.91V502.96H1951.77ZM1940.9 502.96H1984.37V511.75H1940.9ZM1940.9 511.75H2125.64V520.54H1940.9ZM1636.62 564.49H1647.49V573.28H1636.62ZM1354.08 573.28H1430.15V582.07H1354.08ZM1180.21 582.07H1191.08V590.86H1180.21ZM995.47 599.65H1104.14V608.44H995.47ZM843.33 617.23H886.8V626.02H843.33ZM658.6 643.6H854.2V652.39H658.6ZM908.54 652.39H952V661.18H908.54ZM593.39 661.18H647.73V669.97H593.39ZM1288.88 661.18H1332.35V669.97H1288.88ZM691.2 678.76H712.93V687.55H691.2ZM278.25 687.55H582.53V696.34H278.25ZM1538.82 687.55H1930.03V696.34H1538.82ZM1538.82 696.34H2179.98V705.13H1538.82ZM278.25 705.13H582.53V713.92H278.25ZM2212.58 705.13H2234.31V713.92H2212.58ZM2114.77 713.92H2179.98V722.71H2114.77ZM2016.97 740.29H2114.77V749.08H2016.97ZM1397.55 784.24H1582.29V793.03H1397.55ZM289.12 793.03H506.46V801.82H289.12ZM1506.22 793.03H1582.29V801.82H1506.22ZM647.73 863.35H669.46V872.14H647.73ZM506.46 933.67H528.19V942.46H506.46ZM473.86 942.46H495.59V951.25H473.86ZM386.92 1003.99H408.65V1012.78H386.92ZM376.05 1012.78H408.65V1021.57H376.05ZM875.94 1021.57H1104.14V1030.36H875.94ZM299.98 1030.36H386.92V1039.15H299.98ZM278.25 1074.31H289.12V1083.1H278.25Z"/>
<path fill="#e1f1b3" d="M1473.62 599.65H2234.31V608.44H1473.62ZM712.93 608.44H799.87V617.23H712.93ZM1788.76 634.81H2234.31V643.6H1788.76ZM952 661.18H1278.01V669.97H952ZM593.39 1065.52H821.6V1074.31H593.39Z"/>
<path fill="#e4f2b4" d="M2027.84 441.43H2169.11V450.22H2027.84ZM1538.82 467.8H1571.42V476.59H1538.82ZM1191.08 555.7H1223.68V564.49H1191.08ZM1875.7 555.7H2103.91V564.49H1875.7ZM1375.82 617.23H1538.82V626.02H1375.82ZM669.46 652.39H691.2V661.18H669.46ZM723.8 652.39H767.27V661.18H723.8ZM1299.75 652.39H1321.48V661.18H1299.75ZM582.53 669.97H691.2V678.76H582.53ZM723.8 669.97H908.54V678.76H723.8ZM278.25 696.34H582.53V705.13H278.25ZM2016.97 731.5H2234.31V740.29H2016.97ZM1180.21 784.24H1332.35V793.03H1180.21ZM952 793.03H1169.34V801.82H952Z"/>
<path fill="#e6f3b5" d="M1212.81 564.49H1245.41V573.28H1212.81ZM799.87 608.44H908.54V617.23H799.87ZM1245.41 678.76H1267.15V687.55H1245.41ZM582.53 687.55H952V696.34H582.53ZM680.33 705.13H908.54V713.92H680.33ZM506.46 793.03H582.53V801.82H506.46ZM886.8 801.82H1169.34V810.61H886.8ZM647.73 1030.36H875.94V1039.15H647.73Z"/>
<path fill="#e9f4b6" d="M1451.89 406.27H1495.35V415.06H1451.89ZM1604.02 441.43H1701.83V450.22H1604.02ZM1810.5 441.43H2027.84V450.22H1810.5ZM2179.98 476.59H2234.31V485.38H2179.98ZM2071.31 502.96H2136.51V511.75H2071.31ZM2103.91 564.49H2234.31V573.28H2103.91ZM952 696.34H1538.82V705.13H952ZM582.53 705.13H647.73V713.92H582.53ZM408.65 1065.52H593.39V1074.31H408.65Z"/>
<path fill="#edf5b7" d="M1397.55 415.06H1419.29V423.85H1397.55ZM1506.22 441.43H1517.09V450.22H1506.22ZM1799.63 555.7H1843.1V564.49H1799.63ZM843.33 626.02H897.67V634.81H843.33ZM1799.63 626.02H2234.31V634.81H1799.63ZM886.8 652.39H908.54V661.18H886.8ZM723.8 661.18H952V669.97H723.8ZM1538.82 661.18H1571.42V669.97H1538.82ZM908.54 705.13H1538.82V713.92H908.54ZM1886.57 731.5H2016.97V740.29H1886.57ZM1810.5 749.08H1973.5V757.87H1810.5ZM408.65 960.04H419.52V968.83H408.65ZM278.25 1039.15H289.12V1047.94H278.25ZM354.32 1047.94H419.52V1056.73H354.32Z"/>
<path fill="#f0f6b8" d="M1408.42 397.48H1430.15V406.27H1408.42ZM1006.34 608.44H1049.81V617.23H1006.34ZM582.53 696.34H952V705.13H582.53ZM278.25 784.24H517.32V793.03H278.25ZM582.53 793.03H952V801.82H582.53ZM1538.82 836.98H2234.31V845.77H1538.82ZM462.99 933.67H484.72V942.46H462.99Z"/>
<path fill="#f2f6b9" d="M1430.15 406.27H1451.89V415.06H1430.15ZM1973.5 476.59H2071.31V485.38H1973.5ZM1940.9 485.38H2027.84V494.17H1940.9ZM2158.24 485.38H2234.31V494.17H2158.24ZM2136.51 520.54H2190.84V529.33H2136.51ZM1245.41 564.49H1343.22V573.28H1245.41ZM1191.08 573.28H1256.28V582.07H1191.08ZM1908.3 590.86H2201.71V599.65H1908.3ZM2082.17 608.44H2234.31V617.23H2082.17ZM1538.82 617.23H2179.98V626.02H1538.82ZM647.73 661.18H691.2V669.97H647.73ZM952 687.55H1538.82V696.34H952ZM408.65 1003.99H430.39V1012.78H408.65ZM408.65 1012.78H441.25V1021.57H408.65ZM299.98 1065.52H408.65V1074.31H299.98ZM289.12 1074.31H332.59V1083.1H289.12Z"/>
<path fill="#f5f6ba" d="M1636.62 406.27H1690.96V415.06H1636.62ZM1451.89 415.06H1484.49V423.85H1451.89ZM2169.11 415.06H2234.31V423.85H2169.11ZM1364.95 423.85H1408.42V432.64H1364.95ZM1973.5 467.8H2006.1V476.59H1973.5ZM2147.37 494.17H2179.98V502.96H2147.37ZM2212.58 494.17H2234.31V502.96H2212.58ZM1354.08 555.7H1364.95V564.49H1354.08ZM908.54 608.44H952V617.23H908.54ZM1397.55 643.6H1538.82V652.39H1397.55ZM2179.98 696.34H2234.31V705.13H2179.98ZM1886.57 740.29H2016.97V749.08H1886.57ZM1908.3 766.66H2234.31V775.45H1908.3ZM1332.35 784.24H1397.55V793.03H1332.35ZM408.65 1030.36H441.25V1039.15H408.65ZM386.92 1039.15H647.73V1047.94H386.92Z"/>
<path fill="#f7f6ba" d="M1321.48 432.64H1462.75V441.43H1321.48ZM1549.69 626.02H1799.63V634.81H1549.69ZM908.54 836.98H1538.82V845.77H908.54ZM299.98 1047.94H354.32V1056.73H299.98Z"/>
<path fill="#f9f5bb" d="M1419.29 423.85H1451.89V432.64H1419.29ZM2169.11 441.43H2234.31V450.22H2169.11ZM2016.97 459.01H2049.57V467.8H2016.97ZM1864.83 538.12H1897.43V546.91H1864.83ZM2147.37 538.12H2223.44V546.91H2147.37ZM1973.5 546.91H2114.77V555.7H1973.5ZM2136.51 546.91H2234.31V555.7H2136.51ZM2103.91 555.7H2125.64V564.49H2103.91ZM1267.15 573.28H1343.22V582.07H1267.15ZM1788.76 573.28H1832.23V582.07H1788.76ZM1191.08 582.07H1245.41V590.86H1191.08ZM1278.01 582.07H1310.62V590.86H1278.01ZM1473.62 582.07H1604.02V590.86H1473.62ZM1647.49 582.07H1777.9V590.86H1647.49ZM1104.14 599.65H1147.61V608.44H1104.14ZM1049.81 608.44H1093.28V617.23H1049.81ZM1267.15 608.44H1397.55V617.23H1267.15ZM1430.15 608.44H1538.82V617.23H1430.15ZM886.8 617.23H897.67V626.02H886.8ZM984.61 617.23H1006.34V626.02H984.61ZM865.07 634.81H908.54V643.6H865.07ZM1538.82 634.81H1788.76V643.6H1538.82ZM854.2 643.6H886.8V652.39H854.2ZM691.2 652.39H723.8V661.18H691.2ZM1278.01 661.18H1288.88V669.97H1278.01ZM691.2 669.97H723.8V678.76H691.2ZM647.73 705.13H680.33V713.92H647.73ZM1745.3 731.5H1777.9V740.29H1745.3ZM1538.82 749.08H1810.5V757.87H1538.82ZM517.32 784.24H1180.21V793.03H517.32ZM278.25 793.03H289.12V801.82H278.25ZM278.25 810.61H441.25V819.4H278.25ZM278.25 819.4H452.12V828.19H278.25ZM278.25 828.19H430.39V836.98H278.25ZM1147.61 828.19H2234.31V836.98H1147.61ZM278.25 836.98H419.52V845.77H278.25ZM484.72 933.67H506.46V942.46H484.72ZM419.52 1021.57H441.25V1030.36H419.52ZM278.25 1065.52H299.98V1074.31H278.25Z"/>
<path fill="#faf2b8" d="M1940.9 529.33H2082.17V538.12H1940.9ZM1343.22 573.28H1354.08V582.07H1343.22ZM1278.01 590.86H1397.55V599.65H1278.01ZM1647.49 590.86H1908.3V599.65H1647.49ZM1158.48 608.44H1180.21V617.23H1158.48ZM919.4 617.23H962.87V626.02H919.4ZM1017.21 617.23H1375.82V626.02H1017.21ZM908.54 626.02H941.14V634.81H908.54ZM441.25 810.61H484.72V819.4H441.25ZM2125.64 819.4H2234.31V828.19H2125.64ZM604.26 836.98H908.54V845.77H604.26ZM289.12 1039.15H310.85V1047.94H289.12Z"/>
<path fill="#fbf0b6" d="M1701.83 415.06H2082.17V423.85H1701.83ZM1745.3 432.64H2027.84V441.43H1745.3ZM2125.64 511.75H2234.31V520.54H2125.64ZM1419.29 599.65H1473.62V608.44H1419.29ZM952 608.44H1006.34V617.23H952ZM962.87 626.02H1006.34V634.81H962.87ZM691.2 661.18H723.8V669.97H691.2ZM278.25 749.08H1538.82V757.87H278.25ZM1582.29 766.66H1908.3V775.45H1582.29ZM278.25 775.45H506.46V784.24H278.25ZM1506.22 810.61H1538.82V819.4H1506.22ZM2016.97 810.61H2234.31V819.4H2016.97ZM1017.21 828.19H1147.61V836.98H1017.21Z"/>
<path fill="#fcedb3" d="M2136.51 502.96H2234.31V511.75H2136.51ZM1397.55 590.86H1473.62V599.65H1397.55ZM1343.22 599.65H1397.55V608.44H1343.22ZM310.85 1039.15H386.92V1047.94H310.85Z"/>
<path fill="#fdeab0" d="M1625.76 432.64H1712.69V441.43H1625.76ZM2071.31 459.01H2234.31V467.8H2071.31ZM2071.31 467.8H2234.31V476.59H2071.31ZM1951.77 538.12H2147.37V546.91H1951.77ZM1897.43 546.91H1973.5V555.7H1897.43ZM1180.21 590.86H1256.28V599.65H1180.21ZM1256.28 599.65H1332.35V608.44H1256.28ZM941.14 634.81H1038.94V643.6H941.14ZM1321.48 643.6H1397.55V652.39H1321.48ZM2016.97 775.45H2234.31V784.24H2016.97ZM452.12 819.4H473.86V828.19H452.12ZM386.92 1030.36H408.65V1039.15H386.92Z"/>
<path fill="#fde8ad" d="M669.46 740.29H908.54V749.08H669.46ZM2158.24 757.87H2234.31V766.66H2158.24ZM1538.82 810.61H2016.97V819.4H1538.82ZM1908.3 819.4H2125.64V828.19H1908.3ZM419.52 836.98H430.39V845.77H419.52ZM528.19 836.98H604.26V845.77H528.19Z"/>
<path fill="#fde7ab" d="M669.46 731.5H908.54V740.29H669.46ZM1212.81 740.29H1647.49V749.08H1212.81ZM386.92 1021.57H419.52V1030.36H386.92Z"/>
<path fill="#fde5a8" d="M1484.49 415.06H1647.49V423.85H1484.49ZM1180.21 608.44H1267.15V617.23H1180.21ZM1115.01 731.5H1745.3V740.29H1115.01ZM278.25 740.29H582.53V749.08H278.25ZM1777.9 740.29H1886.57V749.08H1777.9ZM1593.16 775.45H2016.97V784.24H1593.16Z"/>
<path fill="#fde0a5" d="M278.25 731.5H582.53V740.29H278.25ZM1354.08 819.4H1908.3V828.19H1354.08Z"/>
<path fill="#fddca2" d="M1451.89 423.85H1473.62V432.64H1451.89ZM1506.22 432.64H1625.76V441.43H1506.22ZM1712.69 432.64H1745.3V441.43H1712.69ZM1919.17 529.33H1940.9V538.12H1919.17ZM2082.17 529.33H2147.37V538.12H2082.17ZM1930.03 538.12H1951.77V546.91H1930.03ZM1864.83 546.91H1897.43V555.7H1864.83ZM2114.77 546.91H2136.51V555.7H2114.77ZM1256.28 573.28H1267.15V582.07H1256.28ZM1245.41 582.07H1278.01V590.86H1245.41ZM1604.02 582.07H1647.49V590.86H1604.02ZM1158.48 590.86H1180.21V599.65H1158.48ZM1256.28 590.86H1278.01V599.65H1256.28ZM1604.02 590.86H1647.49V599.65H1604.02ZM1147.61 599.65H1234.55V608.44H1147.61ZM1093.28 608.44H1158.48V617.23H1093.28ZM1006.34 617.23H1017.21V626.02H1006.34ZM941.14 626.02H962.87V634.81H941.14ZM908.54 634.81H919.4V643.6H908.54ZM886.8 643.6H919.4V652.39H886.8ZM952 643.6H1049.81V652.39H952ZM908.54 731.5H1082.41V740.29H908.54ZM582.53 740.29H669.46V749.08H582.53ZM908.54 740.29H1006.34V749.08H908.54ZM1038.94 740.29H1180.21V749.08H1038.94ZM2038.7 757.87H2158.24V766.66H2038.7ZM1538.82 766.66H1582.29V775.45H1538.82ZM506.46 775.45H539.06V784.24H506.46ZM1354.08 810.61H1506.22V819.4H1354.08ZM430.39 828.19H441.25V836.98H430.39Z"/>
<path fill="#fdd89f" d="M1951.77 423.85H2234.31V432.64H1951.77ZM582.53 731.5H669.46V740.29H582.53Z"/>
<path fill="#fdd49d" d="M1647.49 415.06H1680.09V423.85H1647.49ZM1462.75 432.64H1484.49V441.43H1462.75ZM2179.98 529.33H2223.44V538.12H2179.98ZM2103.91 573.28H2234.31V582.07H2103.91ZM1234.55 599.65H1256.28V608.44H1234.55ZM1332.35 599.65H1343.22V608.44H1332.35ZM897.67 617.23H919.4V626.02H897.67ZM1006.34 626.02H1049.81V634.81H1006.34ZM1038.94 634.81H1071.54V643.6H1038.94ZM1104.14 643.6H1321.48V652.39H1104.14ZM1777.9 731.5H1886.57V740.29H1777.9ZM473.86 819.4H506.46V828.19H473.86ZM908.54 828.19H1017.21V836.98H908.54ZM495.59 836.98H528.19V845.77H495.59Z"/>
<path fill="#fdd09a" d="M1495.35 423.85H1625.76V432.64H1495.35ZM1745.3 423.85H1951.77V432.64H1745.3ZM2006.1 467.8H2071.31V476.59H2006.1ZM897.67 626.02H908.54V634.81H897.67ZM1386.68 626.02H1549.69V634.81H1386.68ZM278.25 766.66H517.32V775.45H278.25ZM1256.28 766.66H1538.82V775.45H1256.28ZM1441.02 775.45H1582.29V784.24H1441.02ZM430.39 836.98H441.25V845.77H430.39Z"/>
<path fill="#fccc96" d="M1408.42 634.81H1538.82V643.6H1408.42ZM1180.21 740.29H1212.81V749.08H1180.21ZM1647.49 740.29H1745.3V749.08H1647.49ZM1973.5 757.87H2038.7V766.66H1973.5ZM1104.14 810.61H1354.08V819.4H1104.14Z"/>
<path fill="#fcc892" d="M2049.57 459.01H2071.31V467.8H2049.57ZM2016.97 573.28H2103.91V582.07H2016.97ZM1397.55 608.44H1430.15V617.23H1397.55ZM1082.41 731.5H1115.01V740.29H1082.41ZM1104.14 819.4H1332.35V828.19H1104.14Z"/>
<path fill="#fbc48e" d="M1408.42 423.85H1419.29V432.64H1408.42ZM2027.84 432.64H2169.11V441.43H2027.84ZM2147.37 555.7H2234.31V564.49H2147.37ZM1321.48 634.81H1408.42V643.6H1321.48ZM908.54 766.66H1256.28V775.45H908.54ZM984.61 775.45H1375.82V784.24H984.61ZM506.46 819.4H560.79V828.19H506.46ZM745.53 828.19H908.54V836.98H745.53Z"/>
<path fill="#fabf8a" d="M1136.74 626.02H1386.68V634.81H1136.74ZM1125.88 634.81H1310.62V643.6H1125.88ZM1864.83 757.87H1973.5V766.66H1864.83ZM582.53 766.66H908.54V775.45H582.53ZM908.54 810.61H1104.14V819.4H908.54ZM941.14 819.4H1104.14V828.19H941.14Z"/>
<path fill="#faba87" d="M1908.3 573.28H2016.97V582.07H1908.3ZM1484.49 590.86H1604.02V599.65H1484.49ZM919.4 634.81H941.14V643.6H919.4ZM919.4 643.6H952V652.39H919.4ZM1049.81 643.6H1104.14V652.39H1049.81ZM1006.34 740.29H1038.94V749.08H1006.34Z"/>
<path fill="#fab584" d="M1897.43 538.12H1930.03V546.91H1897.43ZM1049.81 626.02H1093.28V634.81H1049.81Z"/>
<path fill="#f9b080" d="M1625.76 423.85H1669.23V432.64H1625.76ZM1712.69 423.85H1745.3V432.64H1712.69ZM2223.44 529.33H2234.31V538.12H2223.44ZM517.32 766.66H582.53V775.45H517.32ZM1582.29 775.45H1593.16V784.24H1582.29ZM810.73 819.4H908.54V828.19H810.73ZM441.25 828.19H462.99V836.98H441.25Z"/>
<path fill="#f9a878" d="M1680.09 415.06H1701.83V423.85H1680.09ZM1669.23 423.85H1680.09V432.64H1669.23ZM1495.35 432.64H1506.22V441.43H1495.35ZM2169.11 432.64H2234.31V441.43H2169.11ZM2147.37 529.33H2179.98V538.12H2147.37ZM1853.97 573.28H1908.3V582.07H1853.97ZM1473.62 590.86H1484.49V599.65H1473.62ZM1071.54 634.81H1093.28V643.6H1071.54ZM1310.62 634.81H1321.48V643.6H1310.62ZM1745.3 740.29H1777.9V749.08H1745.3ZM1658.36 757.87H1864.83V766.66H1658.36ZM539.06 775.45H582.53V784.24H539.06ZM908.54 775.45H984.61V784.24H908.54ZM1375.82 775.45H1441.02V784.24H1375.82ZM875.94 810.61H908.54V819.4H875.94ZM908.54 819.4H941.14V828.19H908.54ZM1332.35 819.4H1354.08V828.19H1332.35Z"/>
<path fill="#f8a577" d="M278.25 757.87H517.32V766.66H278.25ZM1375.82 757.87H1582.29V766.66H1375.82Z"/>
<path fill="#f7a375" d="M582.53 775.45H821.6V784.24H582.53Z"/>
<path fill="#f6a074" d="M517.32 757.87H593.39V766.66H517.32ZM615.13 757.87H897.67V766.66H615.13ZM593.39 819.4H745.53V828.19H593.39ZM484.72 828.19H495.59V836.98H484.72ZM462.99 836.98H495.59V845.77H462.99Z"/>
<path fill="#f59b71" d="M1147.61 757.87H1375.82V766.66H1147.61ZM821.6 775.45H908.54V784.24H821.6Z"/>
<path fill="#f2906c" d="M1484.49 432.64H1495.35V441.43H1484.49ZM1093.28 626.02H1104.14V634.81H1093.28ZM1093.28 634.81H1125.88V643.6H1093.28ZM593.39 757.87H615.13V766.66H593.39ZM941.14 757.87H1082.41V766.66H941.14ZM539.06 810.61H560.79V819.4H539.06ZM462.99 828.19H484.72V836.98H462.99Z"/>
<path fill="#f08a6a" d="M1473.62 423.85H1495.35V432.64H1473.62ZM593.39 828.19H723.8V836.98H593.39Z"/>
<path fill="#ee8568" d="M1104.14 626.02H1136.74V634.81H1104.14ZM484.72 810.61H539.06V819.4H484.72ZM615.13 810.61H875.94V819.4H615.13ZM789 819.4H810.73V828.19H789ZM452.12 836.98H462.99V845.77H452.12Z"/>
<path fill="#eb7b68" d="M2125.64 555.7H2147.37V564.49H2125.64ZM1832.23 573.28H1853.97V582.07H1832.23ZM1082.41 757.87H1147.61V766.66H1082.41Z"/>
<path fill="#ea7668" d="M1680.09 423.85H1712.69V432.64H1680.09ZM897.67 757.87H941.14V766.66H897.67ZM1636.62 757.87H1658.36V766.66H1636.62Z"/>
<path fill="#e56a6a" d="M1582.29 757.87H1593.16V766.66H1582.29ZM593.39 810.61H615.13V819.4H593.39ZM723.8 828.19H745.53V836.98H723.8Z"/>
<path fill="#e2666d" d="M495.59 828.19H560.79V836.98H495.59Z"/>
<path fill="#df6271" d="M571.66 819.4H593.39V828.19H571.66ZM745.53 819.4H789V828.19H745.53Z"/>
<path fill="#dc5e74" d="M560.79 828.19H593.39V836.98H560.79ZM441.25 836.98H452.12V845.77H441.25Z"/>
<path fill="#d45473" d="M582.53 810.61H593.39V819.4H582.53Z"/>
<path fill="#cc4a72" d="M1593.16 757.87H1636.62V766.66H1593.16Z"/>
<path fill="#c84772" d="M560.79 819.4H571.66V828.19H560.79Z"/>
<path fill="#b83a70" d="M560.79 810.61H582.53V819.4H560.79Z"/>
</g>
<g transform="translate(646,510.7) scale(0.507)" opacity="0.115" filter="url(#blur)" color="#6e6e6e"><use href="#wm"/></g>
<path d="M283.7,1127.5 L294.6,1045.0 L305.4,1005.0 L316.3,1037.5 L327.2,1020.0 L338.0,1038.8 L348.9,1032.0 L359.8,1012.5 L370.6,1022.5 L381.5,1010.0 L392.4,1008.0 L403.2,962.5 L414.1,843.0 L425.0,838.0 L435.8,833.0 L446.7,819.5 L457.6,820.5 L468.4,836.8 L479.3,813.0 L490.2,826.5 L501.0,828.8 L511.9,785.0 L522.8,778.0 L533.6,796.0 L544.5,824.0 L555.4,816.0 L566.2,778.8 L577.1,775.8 L588.0,665.8 L598.8,670.8 L609.7,640.0 L620.6,651.0 L631.4,673.8 L642.3,651.8 L653.2,662.0 L664.0,657.0 L674.9,662.0 L685.8,668.0 L696.6,610.8 L707.5,625.8 L718.4,606.0 L729.2,560.0 L740.1,526.0 L751.0,597.5 L761.8,592.5 L772.7,569.5 L783.6,561.8 L794.4,570.0 L805.3,588.8 L816.2,625.0 L827.0,652.5 L837.9,643.8 L848.8,625.0 L859.7,621.0 L870.5,628.8 L881.4,641.0 L892.3,694.5 L903.1,646.0 L914.0,626.8 L924.9,623.0 L935.7,548.8 L946.6,549.5 L957.5,575.0 L968.3,623.8 L979.2,617.0 L990.1,628.8 L1000.9,625.8 L1011.8,606.0 L1022.7,643.8 L1033.5,637.0 L1044.4,641.0 L1055.3,665.0 L1066.1,685.0 L1077.0,704.5 L1087.9,628.8 L1098.7,618.5 L1109.6,596.0 L1120.5,602.0 L1131.3,601.5 L1142.2,597.5 L1153.1,580.0 L1163.9,600.0 L1174.8,624.5 L1185.7,572.0 L1196.5,560.0 L1207.4,585.5 L1218.3,582.5 L1229.1,567.0 L1240.0,582.5 L1250.9,571.2 L1261.7,532.5 L1272.6,458.8 L1283.5,437.0 L1294.3,437.5 L1305.2,413.8 L1316.1,402.0 L1326.9,432.5 L1337.8,418.8 L1348.7,410.8 L1359.5,429.5 L1370.4,430.8 L1381.3,439.5 L1392.1,438.0 L1403.0,400.0 L1413.9,416.2 L1424.7,422.5 L1435.6,435.0 L1446.5,430.0 L1457.3,408.0 L1468.2,428.8 L1479.1,430.0 L1489.9,431.2 L1500.8,465.0 L1511.7,500.5 L1522.5,513.0 L1533.4,486.2 L1544.3,473.8 L1555.1,488.0 L1566.0,473.8 L1576.9,437.0 L1587.7,449.5 L1598.6,452.5 L1609.5,410.0 L1620.3,418.5 L1631.2,397.5 L1642.1,350.5 L1652.9,424.0 L1663.8,437.5 L1674.7,437.5 L1685.5,437.0 L1696.4,455.0 L1707.3,508.0 L1718.1,485.8 L1729.0,513.8 L1739.9,446.0 L1750.7,468.8 L1761.6,497.5 L1772.5,551.2 L1783.3,525.0 L1794.2,533.0 L1805.1,512.5 L1815.9,580.0 L1826.8,572.5 L1837.7,582.0 L1848.5,565.0 L1859.4,533.0 L1870.3,525.8 L1881.1,541.2 L1892.0,543.2 L1902.9,550.5 L1913.8,535.0 L1924.6,520.5 L1935.5,529.5 L1946.4,490.0 L1957.2,466.2 L1968.1,458.8 L1979.0,460.0 L1989.8,469.5 L2000.7,468.2 L2011.6,446.2 L2022.4,452.5 L2033.3,442.0 L2044.2,463.8 L2055.0,463.2 L2065.9,470.0 L2076.8,509.5 L2087.6,520.5 L2098.5,500.5 L2109.4,568.8 L2120.2,558.2 L2131.1,558.8 L2142.0,516.2 L2152.8,483.8 L2163.7,489.2 L2174.6,420.0 L2185.4,390.0 L2196.3,365.5 L2207.2,363.8 L2218.0,347.5 L2228.9,330.0" fill="none" stroke="#000" stroke-width="4.2" stroke-linejoin="round" stroke-linecap="butt"/>
<line x1="273.0" y1="1171" x2="273.0" y2="1192" stroke="#e6e6e6" stroke-width="2"/>
<text transform="translate(273.0,1223.6) scale(1.085,1)" text-anchor="middle" class="ax">09 Apr</text>
<line x1="381.7" y1="1171" x2="381.7" y2="1192" stroke="#e6e6e6" stroke-width="2"/>
<text transform="translate(381.7,1223.6) scale(1.085,1)" text-anchor="middle" class="ax">19 Apr</text>
<line x1="490.3" y1="1171" x2="490.3" y2="1192" stroke="#e6e6e6" stroke-width="2"/>
<text transform="translate(490.3,1223.6) scale(1.085,1)" text-anchor="middle" class="ax">29 Apr</text>
<line x1="599.0" y1="1171" x2="599.0" y2="1192" stroke="#e6e6e6" stroke-width="2"/>
<text transform="translate(599.0,1223.6) scale(1.085,1)" text-anchor="middle" class="ax">09 May</text>
<line x1="707.7" y1="1171" x2="707.7" y2="1192" stroke="#e6e6e6" stroke-width="2"/>
<text transform="translate(707.7,1223.6) scale(1.085,1)" text-anchor="middle" class="ax">19 May</text>
<line x1="816.4" y1="1171" x2="816.4" y2="1192" stroke="#e6e6e6" stroke-width="2"/>
<text transform="translate(816.4,1223.6) scale(1.085,1)" text-anchor="middle" class="ax">29 May</text>
<line x1="925.0" y1="1171" x2="925.0" y2="1192" stroke="#e6e6e6" stroke-width="2"/>
<text transform="translate(925.0,1223.6) scale(1.085,1)" text-anchor="middle" class="ax">08 Jun</text>
<line x1="1033.7" y1="1171" x2="1033.7" y2="1192" stroke="#e6e6e6" stroke-width="2"/>
<text transform="translate(1033.7,1223.6) scale(1.085,1)" text-anchor="middle" class="ax">18 Jun</text>
<line x1="1142.4" y1="1171" x2="1142.4" y2="1192" stroke="#e6e6e6" stroke-width="2"/>
<text transform="translate(1142.4,1223.6) scale(1.085,1)" text-anchor="middle" class="ax">28 Jun</text>
<line x1="1251.0" y1="1171" x2="1251.0" y2="1192" stroke="#e6e6e6" stroke-width="2"/>
<text transform="translate(1251.0,1223.6) scale(1.085,1)" text-anchor="middle" class="ax">08 Jul</text>
<line x1="1359.7" y1="1171" x2="1359.7" y2="1192" stroke="#e6e6e6" stroke-width="2"/>
<text transform="translate(1359.7,1223.6) scale(1.085,1)" text-anchor="middle" class="ax">18 Jul</text>
<line x1="1468.4" y1="1171" x2="1468.4" y2="1192" stroke="#e6e6e6" stroke-width="2"/>
<text transform="translate(1468.4,1223.6) scale(1.085,1)" text-anchor="middle" class="ax">28 Jul</text>
<line x1="1577.0" y1="1171" x2="1577.0" y2="1192" stroke="#e6e6e6" stroke-width="2"/>
<text transform="translate(1577.0,1223.6) scale(1.085,1)" text-anchor="middle" class="ax">07 Aug</text>
<line x1="1685.7" y1="1171" x2="1685.7" y2="1192" stroke="#e6e6e6" stroke-width="2"/>
<text transform="translate(1685.7,1223.6) scale(1.085,1)" text-anchor="middle" class="ax">17 Aug</text>
<line x1="1794.4" y1="1171" x2="1794.4" y2="1192" stroke="#e6e6e6" stroke-width="2"/>
<text transform="translate(1794.4,1223.6) scale(1.085,1)" text-anchor="middle" class="ax">27 Aug</text>
<line x1="1903.0" y1="1171" x2="1903.0" y2="1192" stroke="#e6e6e6" stroke-width="2"/>
<text transform="translate(1903.0,1223.6) scale(1.085,1)" text-anchor="middle" class="ax">06 Sep</text>
<line x1="2011.7" y1="1171" x2="2011.7" y2="1192" stroke="#e6e6e6" stroke-width="2"/>
<text transform="translate(2011.7,1223.6) scale(1.085,1)" text-anchor="middle" class="ax">16 Sep</text>
<line x1="2120.4" y1="1171" x2="2120.4" y2="1192" stroke="#e6e6e6" stroke-width="2"/>
<text transform="translate(2120.4,1223.6) scale(1.085,1)" text-anchor="middle" class="ax">26 Sep</text>
<line x1="2229.1" y1="1171" x2="2229.1" y2="1192" stroke="#e6e6e6" stroke-width="2"/>
<text transform="translate(2229.1,1223.6) scale(1.085,1)" text-anchor="middle" class="ax">06 Oct</text>
<text transform="translate(239.3,599.6) scale(0.96,1)" text-anchor="end" class="ax">107.684K</text>
<text transform="translate(239.3,772.6) scale(0.96,1)" text-anchor="end" class="ax">97.684K</text>
<text transform="translate(239.3,964) scale(0.96,1)" text-anchor="end" class="ax">87.684K</text>
<svg x="127" y="1150" width="116" height="40" viewBox="0 0 116 40"><text transform="translate(112.3,29) scale(0.96,1)" text-anchor="end" class="ax">77.68367811K</text></svg>
<rect x="2368" y="399.5" width="40" height="770" fill="url(#cbg)"/>
<text x="2387" y="315" text-anchor="middle" class="cb">Supply</text>
<text x="2387.5" y="371.5" text-anchor="middle" class="cb">268K</text>
<text x="2387.5" y="1209.5" text-anchor="middle" class="cb">0</text>
<text x="62" y="1375.5" font-size="32" fill="#808080" textLength="578" lengthAdjust="spacingAndGlyphs">© 2025 Glassnode. All Rights Reserved.</text>
<g transform="translate(2160,1310) scale(0.14065)" color="#1f1f1f"><use href="#wm"/></g>
</svg>
</body></html>
